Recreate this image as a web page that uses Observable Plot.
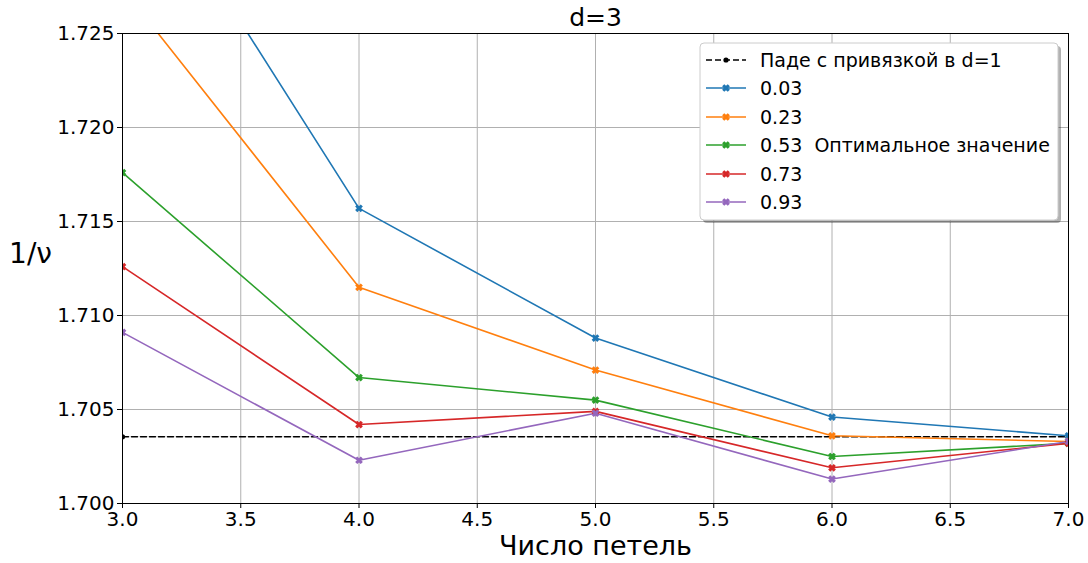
<!DOCTYPE html>
<html>
<head>
<meta charset="utf-8">
<script src="https://cdn.jsdelivr.net/npm/d3@7"></script>
<script src="https://cdn.jsdelivr.net/npm/@observablehq/plot@0.6"></script>
<style>
  html, body { margin: 0; padding: 0; background: #fff; }
  svg { display: block; }
</style>
</head>
<body>
<div id="chart"></div>
<script>
const loops = [3, 4, 5, 6, 7];
const seriesNames = ["0.03", "0.23", "0.53  Оптимальное значение", "0.73", "0.93"];
const seriesColors = ["#1f77b4", "#ff7f0e", "#2ca02c", "#d62728", "#9467bd"];
const s003 = [1.7355, 1.7157, 1.7088, 1.7046, 1.7036];
const s023 = [1.7274, 1.7115, 1.7071, 1.7036, 1.7033];
const s053 = [1.7176, 1.7067, 1.7055, 1.7025, 1.7032];
const s073 = [1.7126, 1.7042, 1.7049, 1.7019, 1.7032];
const s093 = [1.7091, 1.7023, 1.7048, 1.7013, 1.7033];
const padeLoops = [3, 7];
const padeValue = [1.70355, 1.70355];
const padeName = "Паде с привязкой в d=1";
const xTicks = [3.0, 3.5, 4.0, 4.5, 5.0, 5.5, 6.0, 6.5, 7.0];
const yTicks = [1.700, 1.705, 1.710, 1.715, 1.720, 1.725];

const allSeries = [s003, s023, s053, s073, s093];
const rows = [];
allSeries.forEach((vals, i) => {
  vals.forEach((v, j) => rows.push({loops: loops[j], value: v, series: seriesNames[i]}));
});
const padeRows = padeLoops.map((x, j) => ({loops: x, value: padeValue[j]}));

// filled X marker like matplotlib 'X'
const symbolX = {
  draw(context, size) {
    const a = Math.sqrt(size) * 0.62, t = a * 0.38;
    const pts = [[t,a],[t,t],[a,t],[a,-t],[t,-t],[t,-a],[-t,-a],[-t,-t],[-a,-t],[-a,t],[-t,t],[-t,a]];
    const c = Math.SQRT1_2;
    pts.forEach(([x,y], k) => {
      const rx = (x - y) * c, ry = (x + y) * c;
      if (k === 0) context.moveTo(rx, ry); else context.lineTo(rx, ry);
    });
    context.closePath();
  }
};

const font = "DejaVu Sans, sans-serif";
const colorScale = {domain: seriesNames, range: seriesColors};

const svg = Plot.plot({
  width: 1088,
  height: 563,
  marginLeft: 122,
  marginRight: 20,
  marginTop: 33,
  marginBottom: 60,
  style: {fontFamily: font, background: "#fff", overflow: "visible"},
  x: {domain: [3, 7], label: null},
  y: {domain: [1.700, 1.725], label: null},
  color: colorScale,
  marks: [
    Plot.gridX(xTicks, {stroke: "#b0b0b0", strokeOpacity: 1, strokeWidth: 1}),
    Plot.gridY(yTicks, {stroke: "#b0b0b0", strokeOpacity: 1, strokeWidth: 1}),
    Plot.axisX({ticks: xTicks, tickFormat: d3.format(".1f"), tickSize: 5, tickPadding: 3, fontSize: 20, label: null, stroke: "#000"}),
    Plot.axisY({ticks: yTicks, tickFormat: d3.format(".3f"), tickSize: 5, tickPadding: 3, fontSize: 20, label: null, stroke: "#000"}),
    Plot.line(padeRows, {x: "loops", y: "value", stroke: "#000", strokeWidth: 1.6, strokeDasharray: "6,3", clip: true}),
    Plot.dot(padeRows, {x: "loops", y: "value", fill: "#000", r: 2.6, clip: true}),
    Plot.line(rows, {x: "loops", y: "value", z: "series", stroke: "series", strokeWidth: 1.6, clip: true}),
    Plot.dot(rows, {x: "loops", y: "value", fill: "series", symbol: () => symbolX, r: 3.6, clip: true}),
    Plot.frame({stroke: "#000", strokeWidth: 1}),
    Plot.text(["d=3"], {frameAnchor: "top", dy: -16, fontSize: 25, fill: "#000", lineAnchor: "middle"}),
    Plot.text(["1/ν"], {frameAnchor: "left", dx: -92, dy: -14, fontSize: 28, fill: "#000", textAnchor: "middle"}),
    Plot.text(["Число петель"], {frameAnchor: "bottom", dy: 43, fontSize: 27, fill: "#000", lineAnchor: "middle"})
  ]
});

// Legend inside plot area (top-right), matplotlib style
const g = d3.select(svg).append("g").attr("font-family", font).attr("text-anchor", "start");
const lx = 700, ly = 43, lw = 358, lh = 177;
g.append("rect").attr("x", lx + 3).attr("y", ly + 3).attr("width", lw).attr("height", lh)
  .attr("rx", 4).attr("fill", "#000").attr("fill-opacity", 0.3);
g.append("rect").attr("x", lx).attr("y", ly).attr("width", lw).attr("height", lh)
  .attr("rx", 4).attr("fill", "#fff").attr("stroke", "#ccc").attr("stroke-width", 1);
const entries = [{name: padeName, color: "#000", dashed: true}]
  .concat(seriesNames.map((n, i) => ({name: n, color: seriesColors[i], dashed: false})));
const rowY = [60, 88, 117, 145, 174, 202];
entries.forEach((e, i) => {
  const y = rowY[i];
  g.append("line").attr("x1", 706).attr("x2", 746).attr("y1", y).attr("y2", y)
    .attr("stroke", e.color).attr("stroke-width", 1.6)
    .attr("stroke-dasharray", e.dashed ? "6,3" : null);
  if (e.dashed) {
    g.append("circle").attr("cx", 726).attr("cy", y).attr("r", 2.6).attr("fill", "#000");
  } else {
    const p = d3.path(); symbolX.draw(p, 3.6 * 3.6 * Math.PI);
    g.append("path").attr("d", p.toString()).attr("transform", `translate(726,${y})`).attr("fill", e.color);
  }
  g.append("text").attr("x", 760).attr("y", y).attr("dy", "0.35em")
    .attr("font-size", 19).attr("fill", "#000").attr("text-anchor", "start")
    .style("white-space", "pre").text(e.name);
});

document.getElementById("chart").appendChild(svg);
</script>
</body>
</html>
